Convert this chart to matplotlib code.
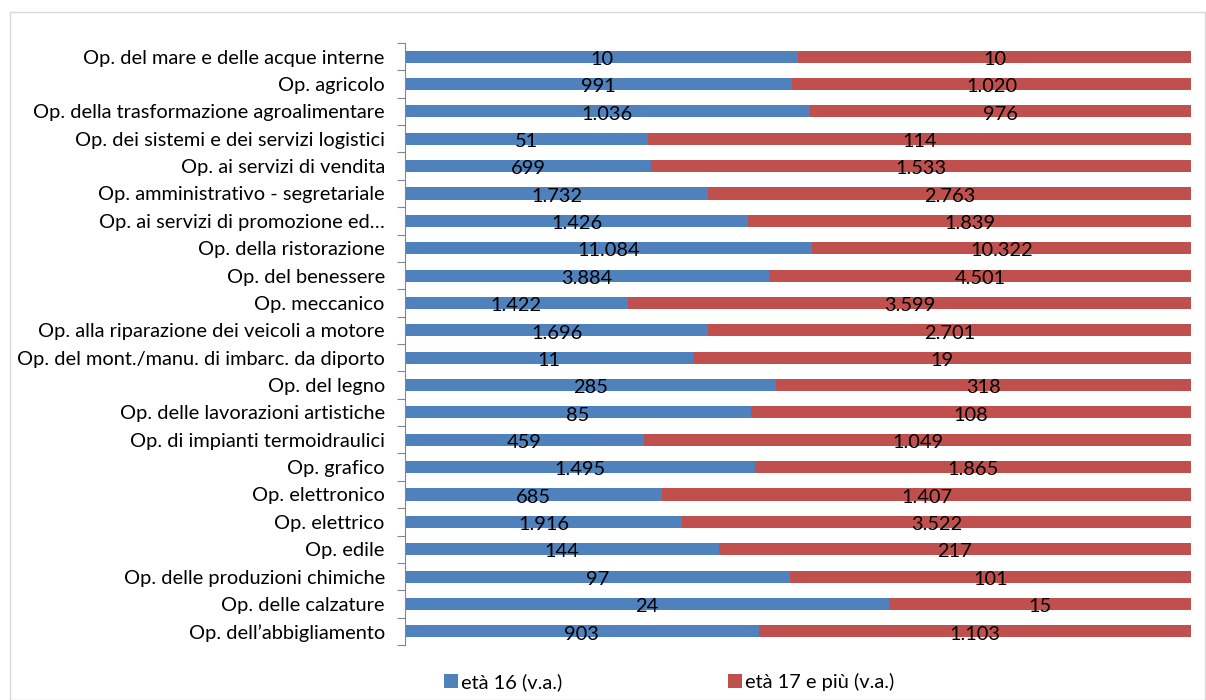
import matplotlib
matplotlib.use("Agg")
import matplotlib.pyplot as plt
import numpy as np
from matplotlib.patches import Rectangle

plt.rcParams['font.family'] = ['Lato', 'DejaVu Sans']

categories = [
    "Op. del mare e delle acque interne",
    "Op. agricolo",
    "Op. della trasformazione agroalimentare",
    "Op. dei sistemi e dei servizi logistici",
    "Op. ai servizi di vendita",
    "Op. amministrativo - segretariale",
    "Op. ai servizi di promozione ed…",
    "Op. della ristorazione",
    "Op. del benessere",
    "Op. meccanico",
    "Op. alla riparazione dei veicoli a motore",
    "Op. del mont./manu. di imbarc. da diporto",
    "Op. del legno",
    "Op. delle lavorazioni artistiche",
    "Op. di impianti termoidraulici",
    "Op. grafico",
    "Op. elettronico",
    "Op. elettrico",
    "Op. edile",
    "Op. delle produzioni chimiche",
    "Op. delle calzature",
    "Op. dell\u2019abbigliamento",
]
eta16 = [10, 991, 1036, 51, 699, 1732, 1426, 11084, 3884, 1422, 1696, 11, 285, 85,
         459, 1495, 685, 1916, 144, 97, 24, 903]
eta17 = [10, 1020, 976, 114, 1533, 2763, 1839, 10322, 4501, 3599, 2701, 19, 318, 108,
         1049, 1865, 1407, 3522, 217, 101, 15, 1103]
series_names = ["età 16 (v.a.)", "età 17 e più (v.a.)"]
colors = ["#4F81BD", "#C0504D"]

FS = 14.4

def fmt(v):
    return f"{v:,}".replace(",", ".")

fig = plt.figure(figsize=(12.06, 7.0), dpi=100)
fig.patches.append(Rectangle((10/1206, 0), 1 - 10/1206 - 0.0005, 1 - 12/700,
                             transform=fig.transFigure, fill=False,
                             edgecolor="#D9D9D9", linewidth=1))
ax = fig.add_axes([405/1206, 1 - 645/700, (1191 - 405)/1206, (645 - 43)/700])

n = len(categories)
y = np.arange(n)
a = np.array(eta16, float)
b = np.array(eta17, float)
tot = a + b
pa = a / tot
pb = b / tot
h = 0.44
ax.barh(y, pa, height=h, color=colors[0], label=series_names[0])
ax.barh(y, pb, left=pa, height=h, color=colors[1], label=series_names[1])

for i in range(n):
    ax.text(pa[i] / 2, y[i] + 0.1, fmt(eta16[i]), ha="center", va="center",
            fontsize=FS, color="black")
    ax.text(pa[i] + pb[i] / 2, y[i] + 0.1, fmt(eta17[i]), ha="center", va="center",
            fontsize=FS, color="black")

ax.set_xlim(0, 1)
ax.set_ylim(n - 0.5, -0.5)
ax.set_yticks(np.arange(-0.5, n, 1.0))
ax.set_yticklabels([])
ax.set_yticks(y, minor=True)
ax.set_yticklabels(categories, minor=True, fontsize=FS)
ax.tick_params(axis="y", which="major", length=6, color="#868686", direction="out")
ax.tick_params(axis="y", which="minor", length=0, pad=14.5)
ax.set_xticks([])
for s in ["top", "right", "bottom"]:
    ax.spines[s].set_visible(False)
ax.spines["left"].set_color("#868686")

handles, labels = ax.get_legend_handles_labels()
fig.legend(handles, labels, loc="center", bbox_to_anchor=(0.5547, 1 - 682/700),
           ncol=2, frameon=False, fontsize=FS, handlelength=0.7, handleheight=0.7,
           handletextpad=0.15, columnspacing=8.3, borderpad=0)

fig.savefig("out.png", dpi=100)
